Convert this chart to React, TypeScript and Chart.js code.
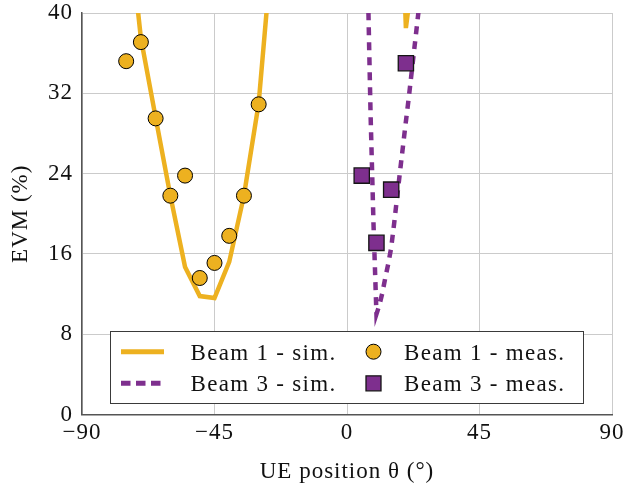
import { useEffect, useRef } from 'react';
import { Chart, registerables } from 'chart.js';

Chart.register(...registerables);

// Simulated EVM curve for beam 1 (angle in degrees, EVM in %)
const beam1SimAngles = [-75, -70, -65, -60, -55, -50, -45, -40, -35, -30, -25, 15, 20, 25];
const beam1SimEvm = [51, 37.5, 29.6, 21.8, 14.7, 11.8, 11.6, 15.2, 21.8, 31.0, 48, 80, 38.5, 50];

// Measured EVM for beam 1
const beam1MeasAngles = [-75, -70, -65, -60, -55, -50, -45, -40, -35, -30];
const beam1MeasEvm = [35.2, 37.1, 29.5, 21.8, 23.8, 13.6, 15.1, 17.8, 21.8, 30.9];

// Simulated EVM curve for beam 3
const beam3SimAngles = [6, 7, 8, 9, 10, 11, 12, 13, 14, 15, 16, 17, 18, 19, 20, 21, 22, 23, 24, 25];
const beam3SimEvm = [58, 44, 30, 19, 10.0, 10.9, 12.1, 13.6, 15.0, 16.6, 19.0, 21.6, 24.2, 26.7, 29.2, 31.6, 34.2, 36.8, 39.4, 42.0];

// Measured EVM for beam 3
const beam3MeasAngles = [5, 10, 15, 20];
const beam3MeasEvm = [23.8, 17.1, 22.4, 35.0];

// Axis ticks
const xTicks = [-90, -45, 0, 45, 90];
const yTicks = [0, 8, 16, 24, 32, 40];

const ORANGE = '#EDB120';
const PURPLE = '#7E2F8E';
const TEXT = '#111111';
const FONT_FAMILY = '"Liberation Serif", "Times New Roman", serif';

const toPoints = (xs: number[], ys: number[]) => xs.map((x, i) => ({ x, y: ys[i] }));
const fmt = (v: number) => (v < 0 ? '\u2212' + Math.abs(v) : String(v));

// Slightly wider glyph spacing for all canvas text
const spacingPlugin = {
  id: 'textSpacing',
  beforeDraw(chart: any) {
    chart.ctx.letterSpacing = '1px';
  },
  afterDraw(chart: any) {
    chart.ctx.letterSpacing = '0px';
  },
};

// Boxed two-column legend inside the plot area
const boxLegendPlugin = {
  id: 'boxLegend',
  afterDraw(chart: any) {
    const ctx: CanvasRenderingContext2D = chart.ctx;
    const box = { left: 110.5, top: 331.5, width: 473, height: 72 };
    const rowY = [351.7, 383.3];
    const sampleX = [121, 164];
    const markerX = 373.5;
    const textX = [190.5, 404];

    ctx.save();
    ctx.fillStyle = '#ffffff';
    ctx.fillRect(box.left, box.top, box.width, box.height);
    ctx.strokeStyle = '#3a3a3a';
    ctx.lineWidth = 1;
    ctx.strokeRect(box.left, box.top, box.width, box.height);

    chart.data.datasets.forEach((ds: any, i: number) => {
      const row = i >> 1;
      const col = i & 1;
      const y = rowY[row];
      if (ds.showLine) {
        ctx.save();
        ctx.strokeStyle = ds.borderColor;
        ctx.lineWidth = 5;
        ctx.setLineDash(ds.borderDash ? [9.5, 5.5] : []);
        ctx.beginPath();
        ctx.moveTo(sampleX[0], y);
        ctx.lineTo(sampleX[1], y);
        ctx.stroke();
        ctx.restore();
      } else {
        ctx.save();
        ctx.fillStyle = ds.pointBackgroundColor;
        ctx.strokeStyle = ds.pointBorderColor;
        ctx.lineWidth = ds.pointBorderWidth;
        ctx.beginPath();
        if (ds.pointStyle === 'rect') {
          ctx.rect(markerX - 7.5, y - 7.5, 15, 15);
        } else {
          ctx.arc(markerX, y, 7.5, 0, Math.PI * 2);
        }
        ctx.fill();
        ctx.stroke();
        ctx.restore();
      }
      ctx.fillStyle = TEXT;
      ctx.font = `23px ${FONT_FAMILY}`;
      (ctx as any).letterSpacing = '1.3px';
      ctx.textAlign = 'left';
      ctx.textBaseline = 'alphabetic';
      ctx.fillText(ds.label, textX[col], y + 7.8);
    });
    ctx.restore();
  },
};

// Let the layout padding alone decide the plot rectangle
const clearScalePadding = (scale: any) => {
  scale.paddingTop = 0;
  scale.paddingBottom = 0;
  scale.paddingLeft = 0;
  scale.paddingRight = 0;
};

export default function App() {
  const canvasRef = useRef<HTMLCanvasElement>(null);

  useEffect(() => {
    const canvas = canvasRef.current;
    if (!canvas) return;

    const chart = new Chart(canvas, {
      type: 'scatter',
      data: {
        datasets: [
          {
            label: 'Beam 1 - sim.',
            data: toPoints(beam1SimAngles, beam1SimEvm),
            showLine: true,
            borderColor: ORANGE,
            borderWidth: 4.5,
            pointRadius: 0,
            pointHoverRadius: 0,
            order: 3,
          },
          {
            label: 'Beam 1 - meas.',
            data: toPoints(beam1MeasAngles, beam1MeasEvm),
            showLine: false,
            pointStyle: 'circle',
            pointRadius: 7.5,
            pointBackgroundColor: ORANGE,
            pointBorderColor: '#000000',
            pointBorderWidth: 1,
            order: 2,
          },
          {
            label: 'Beam 3 - sim.',
            data: toPoints(beam3SimAngles, beam3SimEvm),
            showLine: true,
            borderColor: PURPLE,
            borderWidth: 4.5,
            borderDash: [8, 7],
            pointRadius: 0,
            pointHoverRadius: 0,
            order: 1,
          },
          {
            label: 'Beam 3 - meas.',
            data: toPoints(beam3MeasAngles, beam3MeasEvm),
            showLine: false,
            pointStyle: 'rect',
            pointRadius: 10.8,
            pointBackgroundColor: PURPLE,
            pointBorderColor: '#151515',
            pointBorderWidth: 1.3,
            order: 0,
          },
        ] as any,
      },
      options: {
        responsive: false,
        animation: false,
        devicePixelRatio: 1,
        events: [],
        layout: { autoPadding: false, padding: { top: 13, right: 15, left: 0, bottom: 0 } },
        plugins: {
          legend: { display: false },
          tooltip: { enabled: false },
        },
        scales: {
          x: {
            type: 'linear',
            min: -90,
            max: 90,
            afterBuildTicks: (scale: any) => {
              scale.ticks = xTicks.map((value) => ({ value }));
            },
            afterFit: (scale: any) => {
              scale.height = 73.5;
              clearScalePadding(scale);
            },
            grid: { color: '#cbcbcb', lineWidth: 1, drawTicks: false },
            border: { color: '#555555', width: 1.5 },
            ticks: {
              autoSkip: false,
              maxRotation: 0,
              padding: 7.3,
              color: TEXT,
              font: { family: FONT_FAMILY, size: 23, lineHeight: 1 },
              callback: (v: any) => fmt(Number(v)),
            },
            title: {
              display: true,
              text: 'UE position \u03B8 (\u00B0)',
              color: TEXT,
              font: { family: FONT_FAMILY, size: 23, lineHeight: 1.2 },
              padding: { top: 0, bottom: 2.7 },
            },
          },
          y: {
            type: 'linear',
            min: 0,
            max: 40,
            afterBuildTicks: (scale: any) => {
              scale.ticks = yTicks.map((value) => ({ value }));
            },
            afterFit: (scale: any) => {
              scale.width = 82;
              clearScalePadding(scale);
            },
            grid: { color: '#cbcbcb', lineWidth: 1, drawTicks: false },
            border: { color: '#555555', width: 1.5 },
            ticks: {
              autoSkip: false,
              padding: 9,
              color: TEXT,
              font: { family: FONT_FAMILY, size: 23, lineHeight: 1 },
              callback: (v: any) => fmt(Number(v)),
            },
            title: {
              display: true,
              text: 'EVM (%)',
              color: TEXT,
              font: { family: FONT_FAMILY, size: 23, lineHeight: 1.2 },
              padding: { top: 7.2, bottom: 0 },
            },
          },
        },
      } as any,
      plugins: [spacingPlugin, boxLegendPlugin],
    });

    return () => chart.destroy();
  }, []);

  return (
    <div style={{ position: 'fixed', left: 0, top: 0, width: 627, height: 488, background: '#ffffff' }}>
      <canvas ref={canvasRef} width={627} height={488} style={{ display: 'block', width: 627, height: 488 }} />
    </div>
  );
}
